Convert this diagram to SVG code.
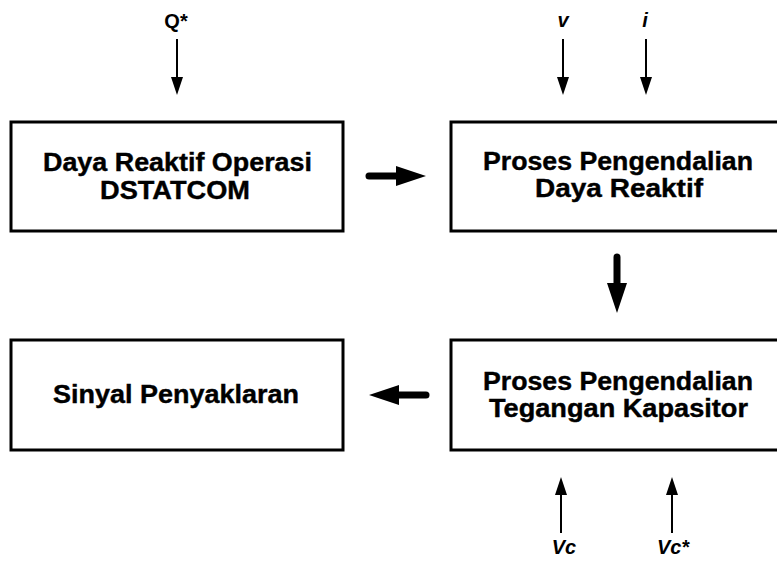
<svg xmlns="http://www.w3.org/2000/svg" width="777" height="563" viewBox="0 0 777 563">
  <style>
    .box { fill: #ffffff; stroke: #000000; stroke-width: 3; }
    .lbl { font-family: "Liberation Sans", Arial, sans-serif; font-weight: bold; font-size: 25px; fill: #000000; stroke: #000000; stroke-width: 0.4; }
    .sig { font-family: "Liberation Sans", Arial, sans-serif; font-weight: bold; font-size: 20px; fill: #000000; text-anchor: middle; }
    .it { font-style: italic; }
    .thin { stroke: #000000; stroke-width: 2; fill: none; marker-end: url(#headThin); }
    .thick { stroke: #000000; stroke-width: 7; stroke-linecap: round; fill: none; marker-end: url(#headThick); }
  </style>
  <defs>
    <marker id="headThin" markerUnits="userSpaceOnUse" markerWidth="18" markerHeight="12" refX="0" refY="6" orient="auto" overflow="visible">
      <path d="M0,0 L18,6 L0,12 Z" fill="#000000"/>
    </marker>
    <marker id="headThick" markerUnits="userSpaceOnUse" markerWidth="30" markerHeight="20" refX="0" refY="10" orient="auto" overflow="visible">
      <path d="M0,0 L30,10 L0,20 Z" fill="#000000"/>
    </marker>
  </defs>
  <rect width="777" height="563" fill="#ffffff"/>

  <g id="node-daya-reaktif-operasi">
    <rect class="box" x="11" y="122" width="332" height="109"/>
    <text class="lbl" x="43" y="171" textLength="269" lengthAdjust="spacingAndGlyphs">Daya Reaktif Operasi</text>
    <text class="lbl" x="100" y="199" textLength="150" lengthAdjust="spacingAndGlyphs">DSTATCOM</text>
  </g>

  <g id="node-pengendalian-daya-reaktif">
    <rect class="box" x="451" y="122" width="340" height="109"/>
    <text class="lbl" x="483" y="170" textLength="270" lengthAdjust="spacingAndGlyphs">Proses Pengendalian</text>
    <text class="lbl" x="535" y="197" textLength="168" lengthAdjust="spacingAndGlyphs">Daya Reaktif</text>
  </g>

  <g id="node-sinyal-penyaklaran">
    <rect class="box" x="11" y="340" width="332" height="110"/>
    <text class="lbl" x="53" y="403" textLength="246" lengthAdjust="spacingAndGlyphs">Sinyal Penyaklaran</text>
  </g>

  <g id="node-pengendalian-tegangan">
    <rect class="box" x="451" y="340" width="340" height="110"/>
    <text class="lbl" x="483" y="390" textLength="270" lengthAdjust="spacingAndGlyphs">Proses Pengendalian</text>
    <text class="lbl" x="489" y="417" textLength="259" lengthAdjust="spacingAndGlyphs">Tegangan Kapasitor</text>
  </g>

  <g id="signals">
    <text class="sig" x="176" y="28">Q*</text>
    <text class="sig it" x="563" y="27">v</text>
    <text class="sig it" x="645" y="27">i</text>
    <text class="sig it" x="564" y="554">Vc</text>
    <text class="sig it" x="673" y="554">Vc*</text>
  </g>

  <g id="connectors">
    <line class="thin" x1="177" y1="39" x2="177" y2="77"/>
    <line class="thin" x1="563" y1="39" x2="563" y2="77"/>
    <line class="thin" x1="646" y1="39" x2="646" y2="77"/>
    <line class="thin" x1="561" y1="533" x2="561" y2="495"/>
    <line class="thin" x1="672" y1="533" x2="672" y2="495"/>
    <line class="thick" x1="369" y1="176" x2="396" y2="176"/>
    <line class="thick" x1="617" y1="257" x2="617" y2="283"/>
    <line class="thick" x1="426" y1="395" x2="399" y2="395"/>
  </g>
</svg>
